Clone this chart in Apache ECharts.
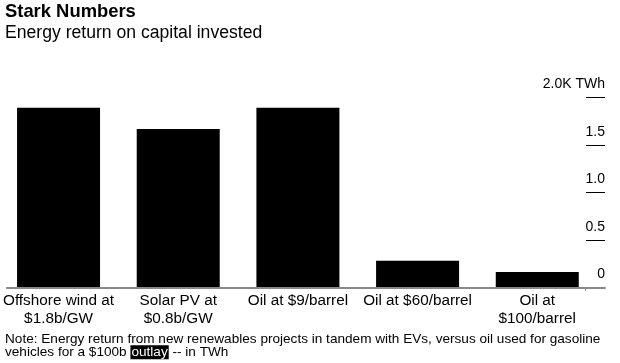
<!DOCTYPE html>
<html>
<head>
<meta charset="utf-8">
<script src="https://cdn.jsdelivr.net/npm/echarts@6/dist/echarts.min.js"></script>
<style>html,body{margin:0;padding:0;background:#fff}#c{width:620px;height:363px}</style>
</head>
<body>
<div id="c"></div>
<script>
var categories = ['Offshore wind at\n$1.8b/GW', 'Solar PV at\n$0.8b/GW', 'Oil at $9/barrel', 'Oil at $60/barrel', 'Oil at\n$100/barrel'];
var values = [1890, 1667, 1890, 282, 163];
var yTickLabels = {0: '0', 500: '0.5', 1000: '1.0', 1500: '1.5', 2000: '2.0K TWh'};

var FONT = 'Liberation Sans, Arial, sans-serif';
var chart = echarts.init(document.getElementById('c'), null, {renderer: 'canvas'});
var data = values.map(function (v, i) { return [i, v]; });

chart.setOption({
  animation: false,
  backgroundColor: '#fff',
  title: [
    {text: 'Stark Numbers', left: 5, top: 3, padding: 0,
     textStyle: {fontFamily: FONT, fontSize: 18.4, fontWeight: 'bold', color: '#000'}},
    {text: 'Energy return on capital invested', left: 5, top: 24, padding: 0,
     textStyle: {fontFamily: FONT, fontSize: 17.6, fontWeight: 'normal', color: '#000'}},
    {text: 'Note: Energy return from new renewables projects in tandem with EVs, versus oil used for gasoline\nvehicles for a $100b {h|outlay} -- in TWh',
     left: 5, top: 333, padding: 0,
     textStyle: {fontFamily: FONT, fontSize: 13.6, fontWeight: 'normal', color: '#000', lineHeight: 12.8,
       rich: {h: {backgroundColor: '#000', color: '#fff', fontFamily: FONT, fontSize: 13.6, lineHeight: 12.8, padding: [0, 1]}}}}
  ],
  grid: {left: 5, width: 600, top: 97.3, height: 190.2, containLabel: false},
  xAxis: {
    type: 'value', min: -0.432, max: 4.566, z: 5,
    splitLine: {show: false},
    axisLine: {show: true, onZero: false, lineStyle: {color: '#888', width: 2}},
    axisTick: {show: true, customValues: [4.4], length: 3, lineStyle: {color: '#888', width: 1}},
    axisLabel: {
      customValues: [0, 1, 2, 3, 4],
      margin: 5,
      fontFamily: FONT, fontSize: 15.3, lineHeight: 17.3, color: '#000',
      formatter: function (v) { return categories[Math.round(v)] || ''; }
    }
  },
  yAxis: {
    type: 'value', position: 'right', min: 0, max: 2000, interval: 500, z: 1,
    splitLine: {show: false},
    axisLine: {show: false, onZero: false},
    axisTick: {show: true, length: 19, inside: true, lineStyle: {color: '#000', width: 1}},
    axisLabel: {
      margin: 0, align: 'right', verticalAlign: 'bottom', padding: [0, 0, 6, 0],
      fontFamily: FONT, fontSize: 14, color: '#000',
      formatter: function (v) { return yTickLabels[v]; }
    }
  },
  graphic: [
    {type: 'rect', z: 100, shape: {x: 0, y: 323, width: 620, height: 9}, style: {fill: '#fff'}}
  ],
  series: [{
    type: 'bar', data: data, barWidth: 83,
    itemStyle: {color: '#000'},
    silent: true
  }]
});
</script>
</body>
</html>
